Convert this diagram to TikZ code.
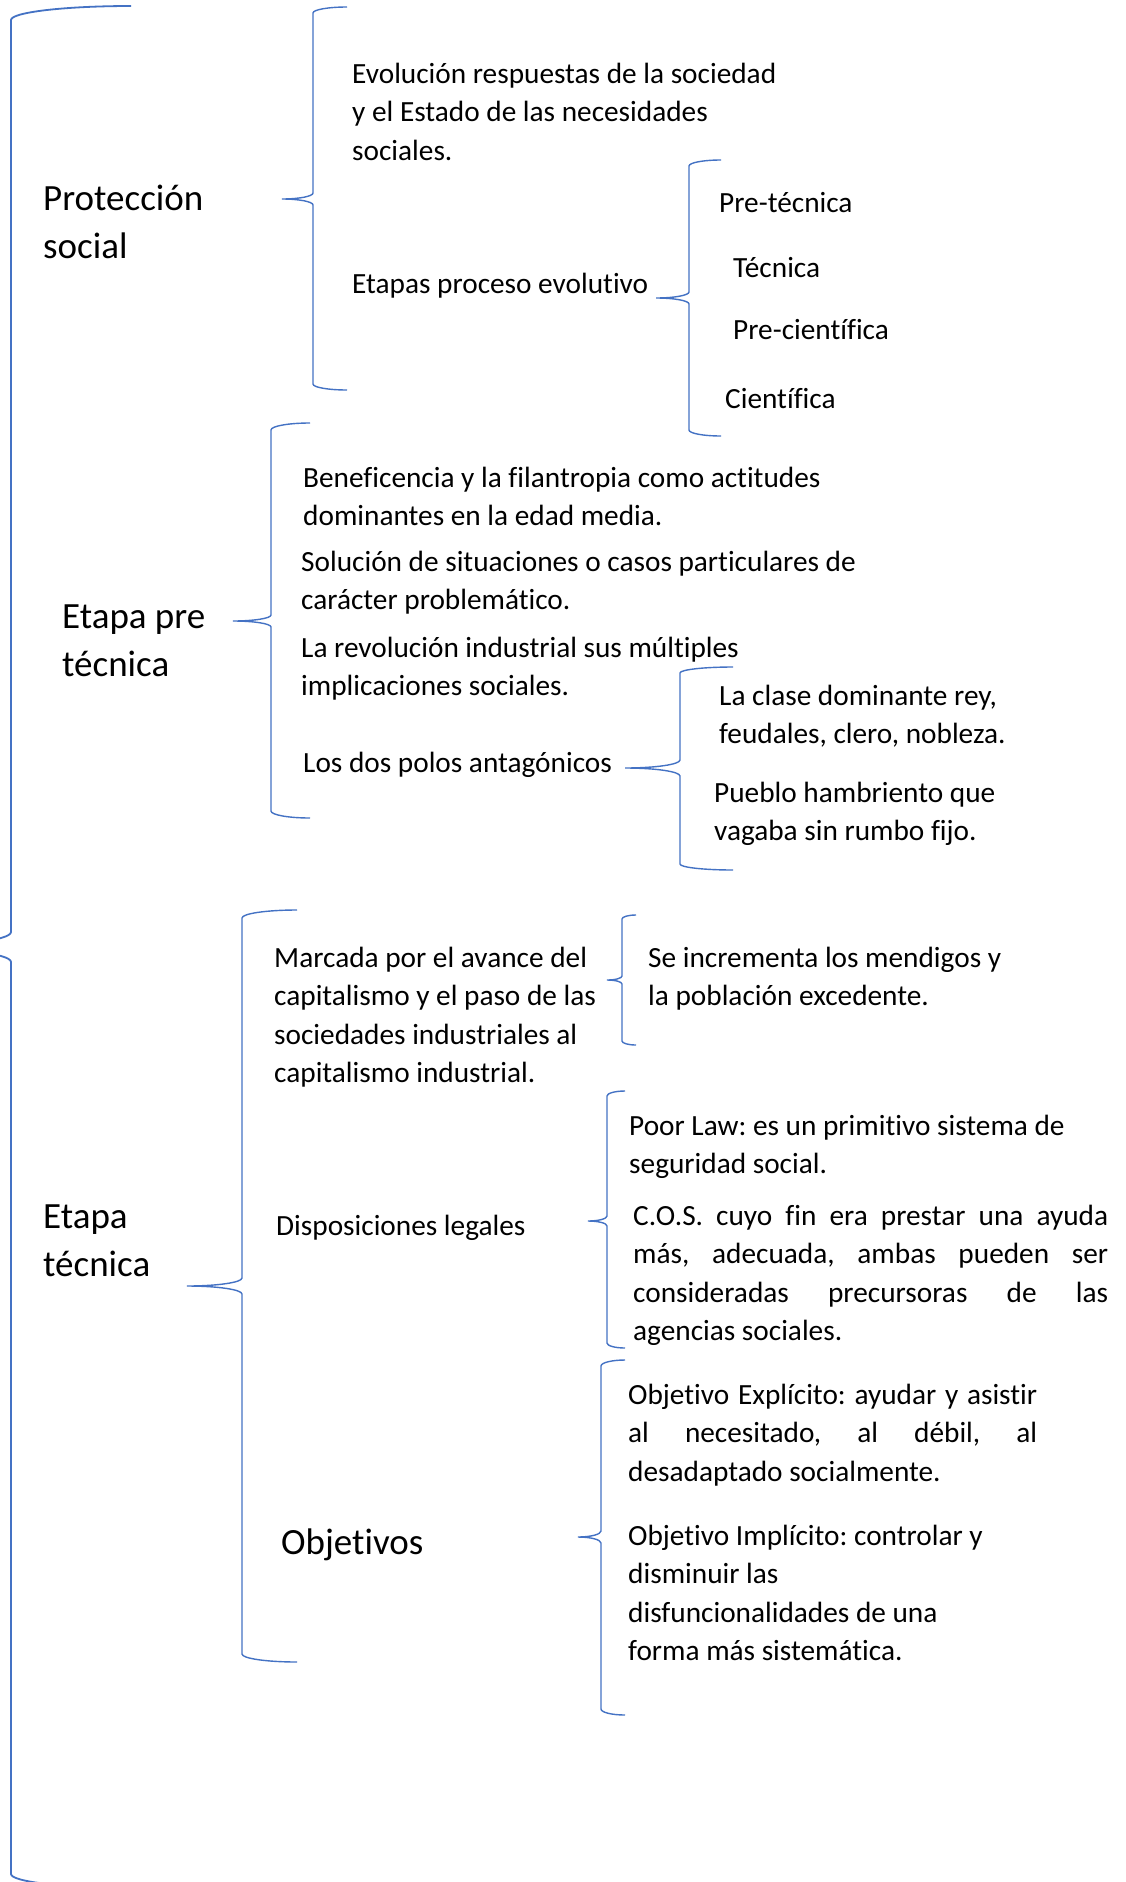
\documentclass[tikz,border=0pt]{standalone}
\usepackage{fontspec}
\setmainfont{Carlito}[Ligatures=CommonOff]
\definecolor{bracecol}{HTML}{4472C4}
% #1 style, #2 X (vertical), #3 Y top, #4 Y bottom, #5 X of ends, #6 X tip, #7 Y tip, #8 corner r, #9 tip h
\newcommand\wbrace[9]{%
  \draw[#1] ({#5},{#3}) .. controls ({(#5)-0.552*((#5)-(#2))},{#3}) and ({#2},{(#3)+0.448*(#8)}) .. ({#2},{(#3)+(#8)})
   -- ({#2},{(#7)-(#9)}) .. controls ({#2},{(#7)-0.448*(#9)}) and ({(#6)+0.552*((#2)-(#6))},{#7}) .. ({#6},{#7})
   .. controls ({(#6)+0.552*((#2)-(#6))},{#7}) and ({#2},{(#7)+0.448*(#9)}) .. ({#2},{(#7)+(#9)})
   -- ({#2},{(#4)-(#8)}) .. controls ({#2},{(#4)-0.448*(#8)}) and ({(#5)-0.552*((#5)-(#2))},{#4}) .. ({#5},{#4});}
\frenchspacing
\begin{document}
\begin{tikzpicture}[x=1pt,y=-1pt,
  brc/.style={draw=bracecol,line width=1.4pt},
  bigbrc/.style={draw=bracecol,line width=1.8pt},
  txt/.style={anchor=base west,inner sep=0pt,font=\fontsize{29.3}{38.5}\selectfont},
  ttl/.style={anchor=base west,inner sep=0pt,font=\fontsize{37}{48}\selectfont}]
\useasboundingbox (0,0) rectangle (1125,1882);
\fill[white] (0,0) rectangle (1125,1882);
\clip (0,0) rectangle (1125,1882);

% braces
\wbrace{bigbrc}{11}{6}{1888}{131}{-109}{947}{14}{15}
\wbrace{brc}{313}{7}{390}{347}{282}{199}{6}{6}
\wbrace{brc}{689}{160}{436}{721}{656}{298}{6}{6}
\wbrace{brc}{271}{423}{818}{310}{233}{621}{7}{6}
\wbrace{brc}{680}{667}{870}{733}{625}{768}{6}{8}
\wbrace{brc}{242}{910}{1662}{297}{187}{1286}{8}{8}
\wbrace{brc}{622}{915}{1045}{636}{607}{980}{4}{4}
\wbrace{brc}{607}{1091}{1348}{625}{588}{1221}{5}{5}
\wbrace{brc}{601}{1360}{1715}{625}{578}{1537}{6}{6}

% titles
\node[ttl] (prot) at (43,210) {\vtop{\hbox{Protección}\hbox{social}}};
\node[ttl] (pre) at (62,628) {\vtop{\hbox{Etapa pre}\hbox{técnica}}};
\node[ttl] (tec) at (43,1228) {\vtop{\hbox{Etapa}\hbox{técnica}}};
\node[ttl] (obj) at (281,1554) {Objetivos};

% Protección social
\node[txt] (evol) at (352,83) {\vtop{\hbox{Evolución respuestas de la sociedad}\hbox{y el Estado de las necesidades}\hbox{sociales.}}};
\node[txt] (etapas) at (352,293) {Etapas proceso evolutivo};
\node[txt] (s1) at (719,212) {Pre-técnica};
\node[txt] (s2) at (733,277) {Técnica};
\node[txt] (s3) at (733,339) {Pre-científica};
\node[txt] (s4) at (725,408) {Científica};

% Etapa pre técnica
\node[txt] (benef) at (303,487) {\vtop{\hbox{Beneficencia y la filantropia como actitudes}\hbox{dominantes en la edad media.}}};
\node[txt] (sol) at (301,571) {\vtop{\hbox{Solución de situaciones o casos particulares de}\hbox{carácter problemático.}}};
\node[txt] (rev) at (301,657) {\vtop{\hbox{La revolución industrial sus múltiples}\hbox{implicaciones sociales.}}};
\node[txt] (polos) at (303,772) {Los dos polos antagónicos};
\node[txt] (clase) at (719,705) {\vtop{\hbox{La clase dominante rey,}\hbox{feudales, clero, nobleza.}}};
\node[txt] (pueblo) at (714,802) {\vtop{\hbox{Pueblo hambriento que}\hbox{vagaba sin rumbo fijo.}}};

% Etapa técnica
\node[txt] (marc) at (274,967) {\vtop{\hbox{Marcada por el avance del}\hbox{capitalismo y el paso de las}\hbox{sociedades industriales al}\hbox{capitalismo industrial.}}};
\node[txt] (incr) at (648,967) {\vtop{\hbox{Se incrementa los mendigos y}\hbox{la población excedente.}}};
\node[txt] (disp) at (276,1235) {Disposiciones legales};
\node[txt] (poor) at (629,1135) {\vtop{\hbox{Poor Law: es un primitivo sistema de}\hbox{seguridad social.}}};
\node[txt] (cos) at (633,1225) {\vtop{\hbox{\makebox[475pt][s]{C.O.S. cuyo fin era prestar una ayuda}}\hbox{\makebox[475pt][s]{más, adecuada, ambas pueden ser}}\hbox{\makebox[475pt][s]{consideradas precursoras de las}}\hbox{agencias sociales.}}};
\node[txt] (expl) at (628,1404) {\vtop{\hbox{\makebox[409pt][s]{Objetivo Explícito: ayudar y asistir}}\hbox{\makebox[409pt][s]{al necesitado, al débil, al}}\hbox{desadaptado socialmente.}}};
\node[txt] (impl) at (628,1545) {\vtop{\hbox{Objetivo Implícito: controlar y}\hbox{disminuir las}\hbox{disfuncionalidades de una}\hbox{forma más sistemática.}}};
\end{tikzpicture}
\end{document}
